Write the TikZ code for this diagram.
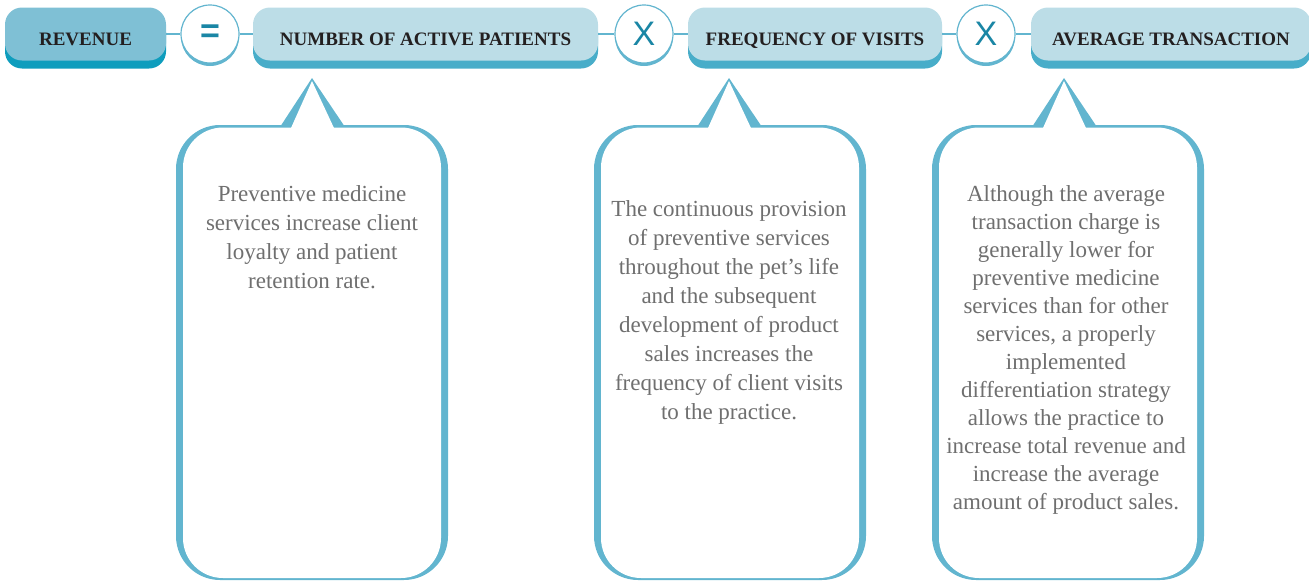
\documentclass[tikz,border=0pt]{standalone}
\usepackage{fontspec}
\setmainfont{Liberation Serif}
\setsansfont{Liberation Sans}
\usetikzlibrary{shapes.geometric,shadows}
\definecolor{revfill}{HTML}{7FC0D5}
\definecolor{revband}{HTML}{0E9DBD}
\definecolor{hdrfill}{HTML}{BCDDE7}
\definecolor{hdrband}{HTML}{48ADC9}
\definecolor{callblue}{HTML}{62B5CF}
\definecolor{symteal}{HTML}{1A86A5}
\definecolor{bodygray}{HTML}{6F6F6F}
\definecolor{hdrtext}{HTML}{231F20}
\newcommand{\hdrfont}{\fontsize{19}{19}\selectfont\bfseries}
\newcommand{\notefont}{\fontsize{23}{29}\selectfont}
\tikzstyle{pill}=[rounded corners=17pt, minimum height=53pt, inner sep=0, text height=22pt, text depth=0pt,
                  font=\hdrfont, text=hdrtext]
\tikzstyle{header}=[pill, fill=hdrfill, general shadow={fill=hdrband, shadow yshift=-8pt}]
\tikzstyle{revheader}=[pill, fill=revfill, general shadow={fill=revband, shadow yshift=-8pt}]
\tikzstyle{op}=[circle, minimum size=58pt, inner sep=0, draw=callblue, line width=1.2pt, fill=white,
                text=symteal, font=\sffamily\fontsize{34}{34}\selectfont,
                general shadow={fill=callblue, shadow yshift=-3pt}]
\tikzstyle{link}=[draw=callblue, line width=2pt]
\tikzstyle{note}=[align=center, inner sep=0, text=bodygray, font=\notefont]

\begin{document}
\begin{tikzpicture}[x=1pt, y=-1pt]
    \useasboundingbox (0,0) rectangle (1309,581);
    % header row
    \node[revheader, minimum width=161pt] (revenue) at (85.5,34) {REVENUE};
    \node[op] (equals) at (210,34) {\bfseries =};
    \node[header, minimum width=345pt] (patients) at (425.5,34) {NUMBER OF ACTIVE PATIENTS};
    \node[op] (times1) at (644,34) {X};
    \node[header, minimum width=254pt] (visits) at (815,34) {FREQUENCY OF VISITS};
    \node[op] (times2) at (986,34) {X};
    \node[header, minimum width=280pt] (transaction) at (1171,34) {AVERAGE TRANSACTION};
    \draw[link] (revenue) -- (equals);
    \draw[link] (equals) -- (patients);
    \draw[link] (patients) -- (times1);
    \draw[link] (times1) -- (visits);
    \draw[link] (visits) -- (times2);
    \draw[link] (times2) -- (transaction);
    % callout boxes
    \foreach \xl/\xr/\xa in {176/448/312, 594/866/729, 932/1204/1064} {
        \fill[callblue, rounded corners=44pt] (\xl,125) rectangle (\xr,580);
        \fill[callblue] (\xa,78) -- (\xa-32,127) -- (\xa+33,127) -- cycle;
        \fill[white, rounded corners=40pt] (\xl+7,127.5) rectangle (\xr-7,578);
        \fill[white] (\xa,81) -- (\xa-21,128) -- (\xa+22,128) -- cycle;
    }
    \node[note, anchor=north] (loyalty) at (312,185) {Preventive medicine\\services increase client\\loyalty and patient\\retention rate.};
    \node[note, anchor=north] (frequency) at (729,200) {The continuous provision\\of preventive services\\throughout the pet's life\\and the subsequent\\development of product\\sales increases the\\frequency of client visits\\to the practice.};
    \node[note, anchor=north, font=\fontsize{23}{28}\selectfont] (charge) at (1066,185) {Although the average\\transaction charge is\\generally lower for\\preventive medicine\\services than for other\\services, a properly\\implemented\\differentiation strategy\\allows the practice to\\increase total revenue and\\increase the average\\amount of product sales.};
\end{tikzpicture}
\end{document}
